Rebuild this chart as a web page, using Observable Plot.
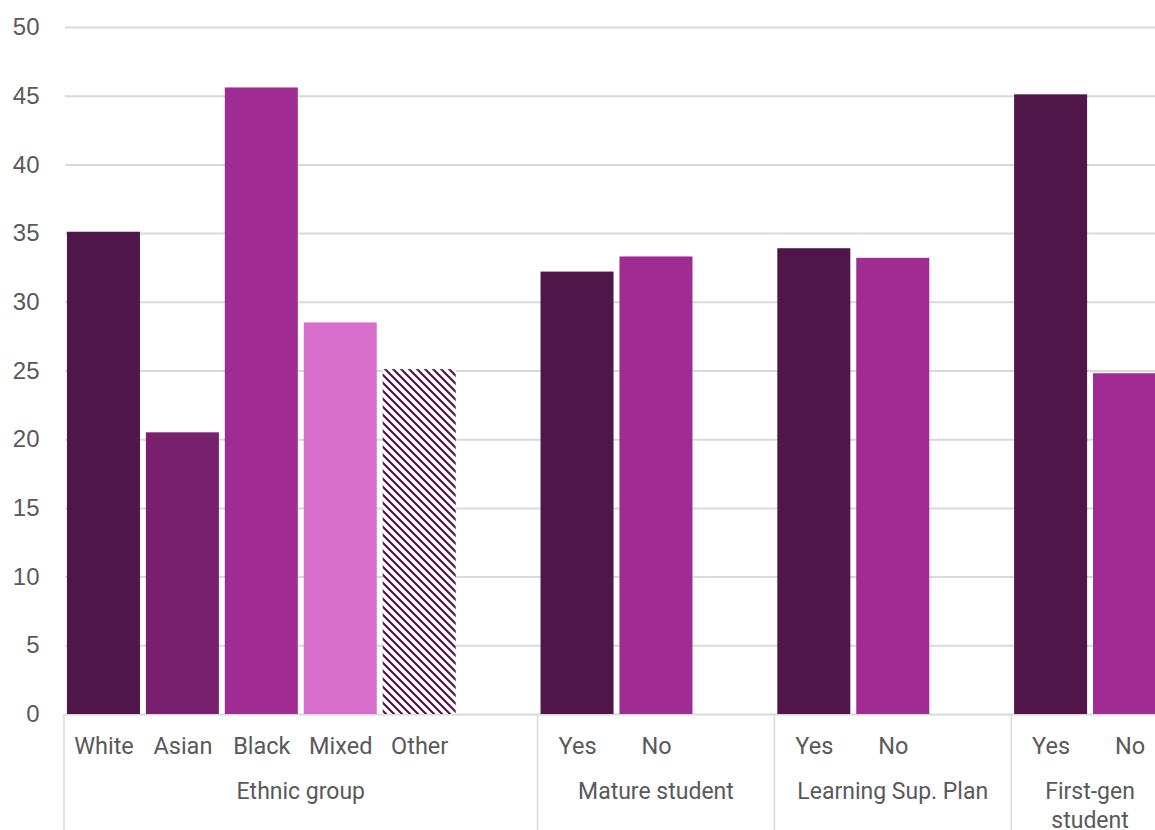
<!DOCTYPE html>
<html>
<head>
<meta charset="utf-8">
<script src="https://cdn.jsdelivr.net/npm/d3@7"></script>
<script src="https://cdn.jsdelivr.net/npm/@observablehq/plot@0.6"></script>
<style>
  html, body { margin: 0; padding: 0; overflow: hidden; background: #ffffff; }
  #chart { width: 1155px; height: 830px; overflow: hidden; }
  #chart svg { display: block; overflow: hidden; }
</style>
</head>
<body>
<div id="chart"></div>
<script>
// ---- Data ----
const groups = ["Ethnic group", "Ethnic group", "Ethnic group", "Ethnic group", "Ethnic group",
                "Mature student", "Mature student",
                "Learning Sup. Plan", "Learning Sup. Plan",
                "First-gen student", "First-gen student"];
const categories = ["White", "Asian", "Black", "Mixed", "Other", "Yes", "No", "Yes", "No", "Yes", "No"];
const values = [35.1, 20.5, 45.6, 28.5, 25.1, 32.2, 33.3, 33.9, 33.2, 45.1, 24.8];
const fills = ["#501549", "#78206E", "#A02B93", "#D86ECC", "url(#otherStripes)",
               "#501549", "#A02B93", "#501549", "#A02B93", "#501549", "#A02B93"];
const groupOrder = ["Ethnic group", "Mature student", "Learning Sup. Plan", "First-gen student"];
const groupLabelLines = {
  "Ethnic group": ["Ethnic group"],
  "Mature student": ["Mature student"],
  "Learning Sup. Plan": ["Learning Sup. Plan"],
  "First-gen student": ["First-gen", "student"]
};
const yTicks = [0, 5, 10, 15, 20, 25, 30, 35, 40, 45, 50];

// ---- Build table & band domain (a blank slot after each group but the last) ----
const rows = categories.map((c, i) => ({
  key: groups[i] + "|" + c, group: groups[i], category: c, value: values[i], fill: fills[i]
}));
const slots = [];
const groupSlots = {};
groupOrder.forEach((g, gi) => {
  const keys = rows.filter(r => r.group === g).map(r => r.key);
  if (gi < groupOrder.length - 1) keys.push(g + "|gap");
  groupSlots[g] = keys;
  slots.push(...keys);
});
const labelOf = Object.fromEntries(rows.map(r => [r.key, r.category]));

const textColor = "#595959";
const gridColor = "#d9d9d9";

// Custom mark: group separators and group labels, positioned from the x band scale
function groupDecor(index, scales, vals, dimensions) {
  const x = scales.x, y = scales.y;
  const bw = x.bandwidth();
  const step = x.step ? x.step() : bw / (1 - 0.075);
  const gap = step - bw;
  const y0 = y(0);
  const bottom = dimensions.height;
  const g = d3.create("svg:g");
  groupOrder.forEach(grp => {
    const keys = groupSlots[grp];
    const left = x(keys[0]) - gap / 2;
    const right = x(keys[keys.length - 1]) + bw + gap / 2;
    g.append("line")
      .attr("x1", left).attr("x2", left)
      .attr("y1", y0).attr("y2", bottom)
      .attr("stroke", gridColor).attr("stroke-width", 1.5);
    const t = g.append("text")
      .attr("x", (left + right) / 2)
      .attr("y", y0 + 85)
      .attr("text-anchor", "middle")
      .attr("font-family", "Roboto, sans-serif")
      .attr("font-size", 23)
      .attr("fill", textColor);
    groupLabelLines[grp].forEach((line, li) => {
      t.append("tspan").attr("x", (left + right) / 2).attr("dy", li === 0 ? 0 : 29).text(line);
    });
  });
  return g.node();
}

const chart = Plot.plot({
  width: 1155,
  height: 830,
  marginLeft: 65,
  marginRight: 0,
  marginTop: 27,
  marginBottom: 116,
  style: { fontFamily: "Roboto, sans-serif", color: textColor, background: "#ffffff", overflow: "hidden" },
  // the last band runs past the right edge, as in the reference
  x: { type: "band", domain: slots, range: [64, 1169], round: false, paddingInner: 0.075, paddingOuter: 0.0375, axis: null },
  y: { domain: [0, 50], axis: null },
  color: { type: "identity" },
  marks: [
    Plot.gridY(yTicks, { stroke: gridColor, strokeOpacity: 1, strokeWidth: 2 }),
    Plot.barY(rows, { x: "key", y: "value", fill: "fill" }),
    Plot.axisY(yTicks, {
      tickSize: 0, tickPadding: 26, fontSize: 24, fontFamily: "Liberation Sans, Arial, sans-serif",
      fill: textColor, label: null
    }),
    Plot.axisX({
      tickSize: 0, tickPadding: 23, fontSize: 23.5, fill: textColor, label: null,
      tickFormat: k => labelOf[k] ?? ""
    }),
    groupDecor
  ]
});

// Striped pattern for the "Other" bar
const svgSel = d3.select(chart);
const defs = svgSel.insert("defs", ":first-child");
const pat = defs.append("pattern")
  .attr("id", "otherStripes")
  .attr("patternUnits", "userSpaceOnUse")
  .attr("width", 8).attr("height", 8);
pat.append("rect").attr("width", 8).attr("height", 8).attr("fill", "#ffffff");
pat.append("path")
  .attr("d", "M-2,-2 L10,10 M-2,6 L2,10 M6,-2 L10,2")
  .attr("stroke", "#501549").attr("stroke-width", 2.2);

document.getElementById("chart").appendChild(chart);
</script>
</body>
</html>
